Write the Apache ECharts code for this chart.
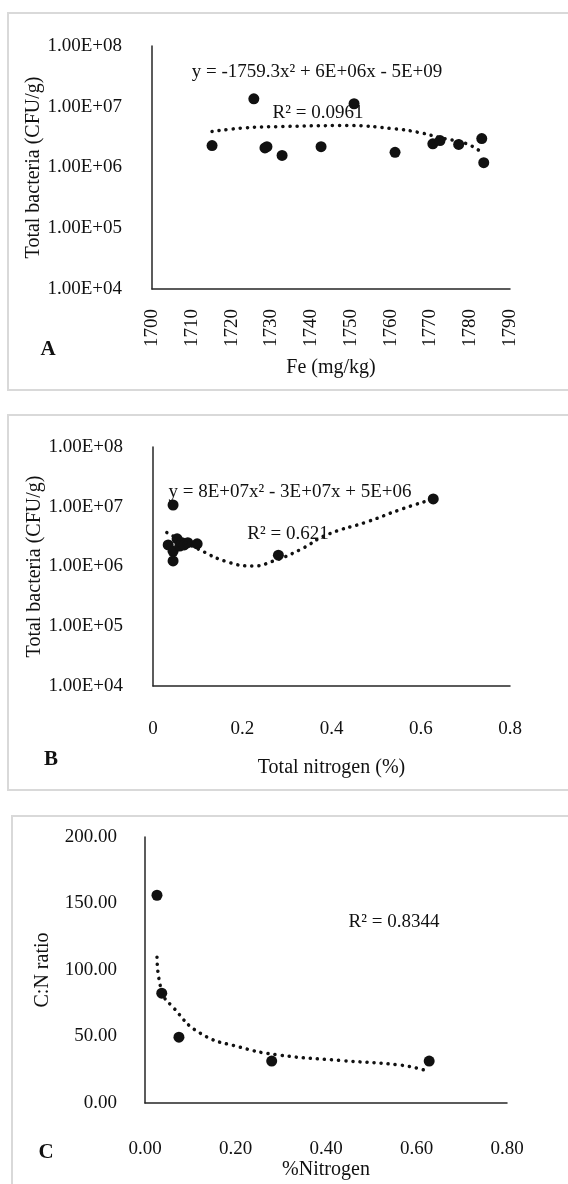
<!DOCTYPE html>
<html>
<head>
<meta charset="utf-8">
<script src="https://cdn.jsdelivr.net/npm/echarts@6/dist/echarts.min.js"></script>
<style>
html, body { margin: 0; padding: 0; background: #fff; }
#main { width: 568px; height: 1184px; }
</style>
</head>
<body>
<div id="main"></div>
<script>
// A - Fe (mg/kg) vs total bacteria (CFU/g)
var feValues = [1715.1, 1725.6, 1728.4, 1728.9, 1732.7, 1742.5, 1750.8, 1761.1, 1770.6, 1772.4, 1777.1, 1782.9, 1783.4];
var bacteriaA = [2.3e6, 1.35e7, 2.1e6, 2.2e6, 1.58e6, 2.2e6, 1.12e7, 1.78e6, 2.45e6, 2.77e6, 2.4e6, 3.0e6, 1.2e6];
var feTrendX = [1715.1, 1723.4, 1731.4, 1749.0, 1760.6, 1767.3, 1772.4, 1779.1, 1783.2];
var feTrendY = [3.9e6, 4.5e6, 4.7e6, 4.9e6, 4.35e6, 3.75e6, 3.1e6, 2.46e6, 1.7e6];

// B - total nitrogen (%) vs total bacteria (CFU/g)
var nitrogenB = [0.045, 0.034, 0.045, 0.045, 0.054, 0.060, 0.065, 0.070, 0.078, 0.099, 0.281, 0.628];
var bacteriaB = [1.07e7, 2.3e6, 1.8e6, 1.24e6, 2.9e6, 2.2e6, 2.5e6, 2.3e6, 2.5e6, 2.4e6, 1.55e6, 1.35e7];
var nTrendX = [0.031, 0.105, 0.166, 0.224, 0.269, 0.329, 0.390, 0.480, 0.553, 0.621];
var nTrendY = [3.7e6, 1.9e6, 1.2e6, 1.02e6, 1.23e6, 1.9e6, 3.4e6, 5.6e6, 8.9e6, 1.3e7];

// C - %Nitrogen vs C:N ratio
var nitrogenC = [0.0265, 0.037, 0.075, 0.280, 0.628];
var cnRatio = [156.2, 82.6, 49.5, 31.5, 31.5];
var cnTrendX = [0.0265, 0.037, 0.062, 0.122, 0.210, 0.298, 0.431, 0.564, 0.615];
var cnTrendY = [109.6, 84.0, 72.0, 52.5, 42.0, 36.0, 32.0, 28.5, 25.0];

// annotation texts
var eqA = 'y = -1759.3x² + 6E+06x - 5E+09';
var r2A = 'R² = 0.0961';
var eqB = 'y = 8E+07x² - 3E+07x + 5E+06';
var r2B = 'R² = 0.621';
var r2C = 'R² = 0.8344';

function zip(xs, ys) {
    return xs.map(function (x, i) { return [x, ys[i]]; });
}

// 1.00E+08 style labels for the log axes
function sciLabel(v) {
    var e = Math.round(Math.log10(v));
    return '1.00E+' + (e < 10 ? '0' : '') + e;
}

var ink = '#111';
var axisLine = { show: true, lineStyle: { color: '#262626', width: 1.5 } };
var labelFont = { color: ink, fontSize: 19, fontFamily: 'Liberation Serif' };
var nameFont = { color: ink, fontSize: 20, fontFamily: 'Liberation Serif' };

function dots(xi, yi, data) {
    return {
        type: 'scatter', xAxisIndex: xi, yAxisIndex: yi, data: data,
        symbol: 'circle', symbolSize: 11, itemStyle: { color: ink, opacity: 1 }, z: 3
    };
}
function trend(xi, yi, data) {
    return {
        type: 'line', xAxisIndex: xi, yAxisIndex: yi, data: data,
        smooth: true, showSymbol: false, symbol: 'none',
        lineStyle: { color: ink, width: 3.5, type: [0.1, 7], cap: 'round' }, z: 4
    };
}
function text(x, y, str, extra) {
    var st = { text: str, fill: ink, font: '19px "Liberation Serif"', textAlign: 'center', textVerticalAlign: 'middle' };
    for (var k in extra) st[k] = extra[k];
    return { type: 'text', x: x, y: y, style: st, z: 10 };
}
function frame(x, y, w, h) {
    return { type: 'rect', shape: { x: x, y: y, width: w, height: h }, style: { fill: 'none', stroke: '#d9d9d9', lineWidth: 2 }, z: 0 };
}

var chart = echarts.init(document.getElementById('main'));
chart.setOption({
    animation: false,
    backgroundColor: '#fff',
    textStyle: { fontFamily: 'Liberation Serif' },
    grid: [
        { left: 152, top: 46, width: 358, height: 243 },
        { left: 153, top: 447, width: 357, height: 239 },
        { left: 145, top: 837, width: 362, height: 266 }
    ],
    xAxis: [
        {
            gridIndex: 0, type: 'value', min: 1700, max: 1790, interval: 10,
            axisLine: axisLine, axisTick: { show: false }, splitLine: { show: false },
            axisLabel: Object.assign({ rotate: 90, margin: 20, formatter: function (v) { return String(v); } }, labelFont),
            name: 'Fe (mg/kg)', nameLocation: 'middle', nameGap: 69, nameMoveOverlap: false, nameTextStyle: nameFont
        },
        {
            gridIndex: 1, type: 'value', min: 0, max: 0.8, interval: 0.2,
            axisLine: axisLine, axisTick: { show: false }, splitLine: { show: false },
            axisLabel: Object.assign({ margin: 34 }, labelFont),
            name: 'Total nitrogen (%)', nameLocation: 'middle', nameGap: 72, nameMoveOverlap: false, nameTextStyle: nameFont
        },
        {
            gridIndex: 2, type: 'value', min: 0, max: 0.8, interval: 0.2,
            axisLine: axisLine, axisTick: { show: false }, splitLine: { show: false },
            axisLabel: Object.assign({ margin: 37, formatter: function (v) { return v.toFixed(2); } }, labelFont),
            name: '%Nitrogen', nameLocation: 'middle', nameGap: 57, nameMoveOverlap: false, nameTextStyle: nameFont
        }
    ],
    yAxis: [
        {
            gridIndex: 0, type: 'log', logBase: 10, min: 1e4, max: 1e8,
            axisLine: axisLine, axisTick: { show: false }, splitLine: { show: false },
            axisLabel: Object.assign({ margin: 30, formatter: sciLabel }, labelFont),
            name: 'Total bacteria (CFU/g)', nameLocation: 'middle', nameGap: 108, nameMoveOverlap: false, nameTextStyle: nameFont
        },
        {
            gridIndex: 1, type: 'log', logBase: 10, min: 1e4, max: 1e8,
            axisLine: axisLine, axisTick: { show: false }, splitLine: { show: false },
            axisLabel: Object.assign({ margin: 30, formatter: sciLabel }, labelFont),
            name: 'Total bacteria (CFU/g)', nameLocation: 'middle', nameGap: 108, nameMoveOverlap: false, nameTextStyle: nameFont
        },
        {
            gridIndex: 2, type: 'value', min: 0, max: 200, interval: 50,
            axisLine: axisLine, axisTick: { show: false }, splitLine: { show: false },
            axisLabel: Object.assign({ margin: 28, formatter: function (v) { return v.toFixed(2); } }, labelFont),
            name: 'C:N ratio', nameLocation: 'middle', nameGap: 92, nameMoveOverlap: false, nameTextStyle: nameFont
        }
    ],
    series: [
        dots(0, 0, zip(feValues, bacteriaA)),
        trend(0, 0, zip(feTrendX, feTrendY)),
        dots(1, 1, zip(nitrogenB, bacteriaB)),
        trend(1, 1, zip(nTrendX, nTrendY)),
        dots(2, 2, zip(nitrogenC, cnRatio)),
        trend(2, 2, zip(cnTrendX, cnTrendY))
    ],
    graphic: [
        frame(8, 13, 600, 377),
        frame(8, 415, 600, 375),
        frame(12, 816, 600, 420),
        text(317, 72, eqA),
        text(318, 113, r2A),
        text(290, 492, eqB),
        text(288, 534, r2B),
        text(394, 922, r2C),
        text(48, 350, 'A', { font: 'bold 21px "Liberation Serif"' }),
        text(51, 760, 'B', { font: 'bold 21px "Liberation Serif"' }),
        text(46, 1153, 'C', { font: 'bold 21px "Liberation Serif"' })
    ]
});
</script>
</body>
</html>
